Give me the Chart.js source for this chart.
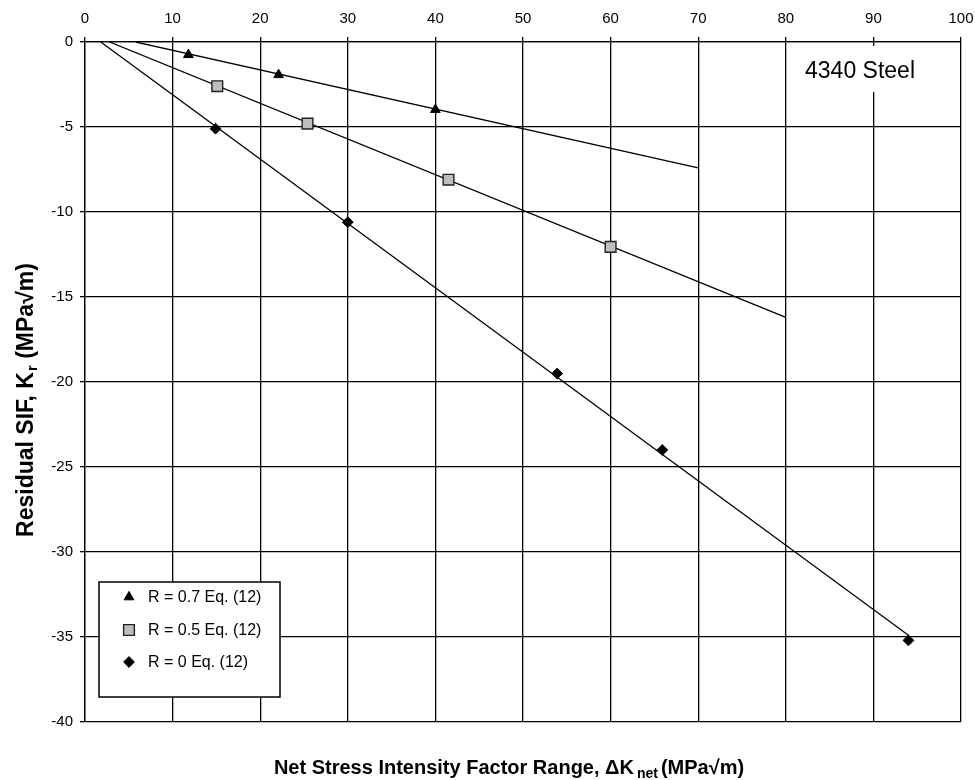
<!DOCTYPE html>
<html>
<head>
<meta charset="utf-8">
<script src="https://cdn.jsdelivr.net/npm/chart.js@4/dist/chart.umd.min.js"></script>
<style>
  html, body { margin: 0; padding: 0; background: #fff; }
  canvas { display: block; }
</style>
</head>
<body>
<canvas id="chart" width="975" height="780"></canvas>
<script>
// measured points, R = 0.7 / 0.5 / 0
const r07X = [11.8, 22.1, 40.0];
const r07Y = [-0.75, -1.93, -3.98];
const r05X = [15.1, 25.4, 41.5, 60.0];
const r05Y = [-2.6, -4.8, -8.1, -12.05];
const r0X = [14.9, 30.0, 53.9, 65.9, 94.0];
const r0Y = [-5.1, -10.6, -19.5, -24.0, -35.2];

// Eq. (12) lines, start and end points
const fit07X = [5.8, 70];
const fit07Y = [0, -7.4];
const fit05X = [2.8, 80];
const fit05Y = [0, -16.2];
const fit0X = [1.8, 94];
const fit0Y = [0, -34.9];

const xTicks = [0, 10, 20, 30, 40, 50, 60, 70, 80, 90, 100];
const yTicks = [0, -5, -10, -15, -20, -25, -30, -35, -40];
const seriesNames = ['R = 0.7 Eq. (12)', 'R = 0.5 Eq. (12)', 'R = 0 Eq. (12)'];
const materialLabel = '4340 Steel';

const FONT = '"Liberation Sans", Arial, Helvetica, sans-serif';

const pts = (xs, ys) => xs.map((x, i) => ({ x: x, y: ys[i] }));

const markerStyles = [
  { pointStyle: 'triangle', radius: 5.6, fill: '#000', stroke: '#000', borderWidth: 1 },
  { pointStyle: 'rect', radius: 7.6, fill: '#bdbdbd', stroke: '#222', borderWidth: 1.4 },
  { pointStyle: 'rectRot', radius: 5.4, fill: '#000', stroke: '#000', borderWidth: 1 }
];

function markerSet(label, data, m) {
  return {
    type: 'scatter', label: label, data: data, order: 0,
    showLine: false,
    pointStyle: m.pointStyle, pointRadius: m.radius, pointHoverRadius: m.radius,
    pointBackgroundColor: m.fill, pointBorderColor: m.stroke, pointBorderWidth: m.borderWidth
  };
}

function fitLine(data) {
  return {
    type: 'line', data: data, order: 1,
    borderColor: '#000', borderWidth: 1.3, pointRadius: 0, fill: false, tension: 0
  };
}

// keep the plot box fixed, no extra room for edge labels
function noEdgePadding(s) {
  s.paddingLeft = 0; s.paddingRight = 0; s.paddingTop = 0; s.paddingBottom = 0;
}

// legend box, material note and the two axis titles
const extras = {
  id: 'extras',
  afterDatasetsDraw(chart) {
    const ctx = chart.ctx;
    ctx.save();

    // material note with white backing
    ctx.fillStyle = '#fff';
    ctx.fillRect(795, 46, 130, 46);
    ctx.fillStyle = '#000';
    ctx.font = '23px ' + FONT;
    ctx.textAlign = 'center';
    ctx.textBaseline = 'middle';
    ctx.fillText(materialLabel, 860, 72);

    // legend
    ctx.fillStyle = '#fff';
    ctx.fillRect(99, 582, 181, 115);
    ctx.strokeStyle = '#000';
    ctx.lineWidth = 1.5;
    ctx.strokeRect(99, 582, 181, 115);
    const rows = [597, 630, 662];
    ctx.font = '16px ' + FONT;
    ctx.textAlign = 'left';
    ctx.textBaseline = 'middle';
    seriesNames.forEach((name, i) => {
      const m = markerStyles[i];
      ctx.fillStyle = m.fill;
      ctx.strokeStyle = m.stroke;
      ctx.lineWidth = m.borderWidth;
      Chart.helpers.drawPoint(ctx, { pointStyle: m.pointStyle, radius: m.radius, rotation: 0, borderWidth: m.borderWidth }, 129, rows[i]);
      ctx.fillStyle = '#000';
      ctx.fillText(name, 148, rows[i] + 1);
    });

    // x title: Net Stress Intensity Factor Range, ΔK_net (MPa√m)
    const big = 'bold 20px ' + FONT;
    const small = 'bold 14px ' + FONT;
    const a = 'Net Stress Intensity Factor Range, \u0394K';
    const sub = 'net';
    const b = '(MPa\u221Am)';
    ctx.font = big;
    const wa = ctx.measureText(a).width, wb = ctx.measureText(b).width;
    ctx.font = small;
    const ws = ctx.measureText(sub).width;
    const gap = 3;
    let x = 509 - (wa + gap + ws + gap + wb) / 2;
    const yb = 774;
    ctx.textBaseline = 'alphabetic';
    ctx.fillStyle = '#000';
    ctx.font = big; ctx.fillText(a, x, yb); x += wa + gap;
    ctx.font = small; ctx.fillText(sub, x, yb + 4); x += ws + gap;
    ctx.font = big; ctx.fillText(b, x, yb);

    // y title: Residual SIF, K_r (MPa√m)
    const bigY = 'bold 23px ' + FONT;
    const smallY = 'bold 15px ' + FONT;
    ctx.translate(33, 400);
    ctx.rotate(-Math.PI / 2);
    const c = 'Residual SIF, K';
    const sub2 = 'r';
    const d = ' (MPa\u221Am)';
    ctx.font = bigY;
    const wc = ctx.measureText(c).width, wd = ctx.measureText(d).width;
    ctx.font = smallY;
    const ws2 = ctx.measureText(sub2).width;
    let t = -(wc + 1 + ws2 + wd) / 2;
    ctx.font = bigY; ctx.fillText(c, t, 0); t += wc + 1;
    ctx.font = smallY; ctx.fillText(sub2, t, 4); t += ws2;
    ctx.font = bigY; ctx.fillText(d, t, 0);

    ctx.restore();
  }
};

new Chart(document.getElementById('chart'), {
  data: {
    datasets: [
      markerSet(seriesNames[0], pts(r07X, r07Y), markerStyles[0]),
      markerSet(seriesNames[1], pts(r05X, r05Y), markerStyles[1]),
      markerSet(seriesNames[2], pts(r0X, r0Y), markerStyles[2]),
      fitLine(pts(fit07X, fit07Y)),
      fitLine(pts(fit05X, fit05Y)),
      fitLine(pts(fit0X, fit0Y))
    ]
  },
  options: {
    responsive: false,
    animation: false,
    devicePixelRatio: 1,
    layout: { padding: { left: 0, top: 0, right: 14, bottom: 58 } },
    plugins: { legend: { display: false }, tooltip: { enabled: false } },
    scales: {
      x: {
        type: 'linear', position: 'top', min: 0, max: 100,
        afterBuildTicks: s => { s.ticks = xTicks.map(v => ({ value: v })); },
        afterFit: s => { s.height = 42; noEdgePadding(s); },
        ticks: { color: '#000', font: { family: FONT, size: 15 }, padding: 9, maxRotation: 0 },
        grid: { color: '#000', lineWidth: 1.3, tickLength: 5 },
        border: { color: '#000', width: 1.3 }
      },
      y: {
        type: 'linear', min: -40, max: 0,
        afterBuildTicks: s => { s.ticks = yTicks.map(v => ({ value: v })); },
        afterFit: s => { s.width = 85; noEdgePadding(s); },
        ticks: { color: '#000', font: { family: FONT, size: 15 }, padding: 7 },
        grid: { color: '#000', lineWidth: 1.3, tickLength: 5 },
        border: { color: '#000', width: 1.3 }
      }
    }
  },
  plugins: [extras]
});
</script>
</body>
</html>
